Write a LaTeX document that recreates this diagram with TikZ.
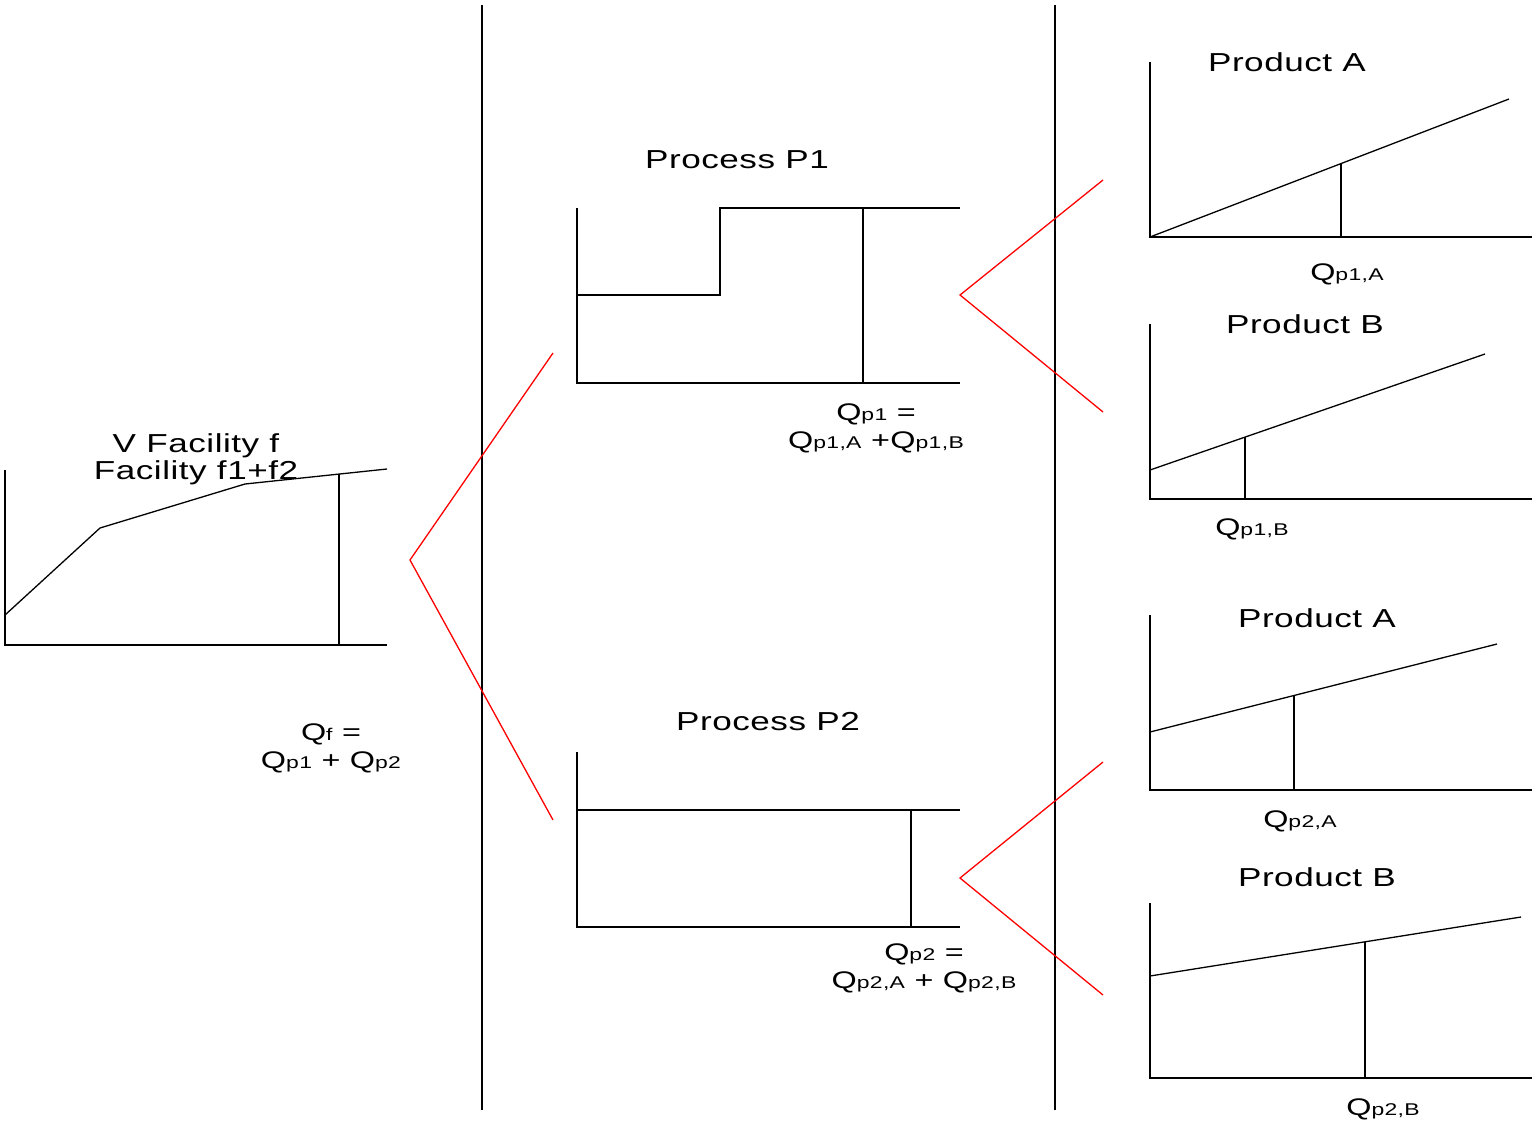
\documentclass[tikz,border=0pt]{standalone}
\usepackage{fontspec}
\setmainfont[FakeStretch=1.35,LetterSpace=2]{Liberation Sans}
\usetikzlibrary{positioning}
\newcommand{\Qsub}[1]{Q{\fontsize{8.5}{10}\selectfont #1}}

\begin{document}
\begin{tikzpicture}[x=0.5pt, y=-0.5pt,
  axisline/.style={line width=0.65pt},
  curveline/.style={line width=0.65pt},
  branch/.style={red, line width=0.65pt},
  divider/.style={line width=0.65pt},
  charttitle/.style={font=\fontsize{13}{13.5}\selectfont, align=center, inner sep=0pt},
  qlabel/.style={font=\fontsize{12}{14}\selectfont, align=center, inner sep=0pt},
]
\useasboundingbox (0,0) rectangle (1532,1120);

% Dividers
\draw[divider] (482,5) -- (482,1110);
\draw[divider] (1055,5) -- (1055,1110);

% Facility
\node[charttitle] (ftitle) at (196,459) {V Facility f\\Facility f1+f2};
\draw[axisline] (5,470) -- (5,645) -- (387,645);
\draw[curveline] (5,615) -- (100,528) -- (245,484) -- (387,469);
\draw[curveline] (339,645) -- (339,474);
\node[qlabel] (qf) at (331,748) {\Qsub{f} =\\\Qsub{p1} + \Qsub{p2}};

% Branches to processes
\coordinate (fsplit) at (410,560);
\coordinate (p1in) at (553,353);
\coordinate (p2in) at (553,820);
\draw[branch] (p1in) -- (fsplit) -- (p2in);

% Process P1
\node[charttitle] (p1title) at (737,160) {Process P1};
\draw[axisline] (577,208) -- (577,383) -- (960,383);
\draw[curveline] (577,295) -- (720,295) -- (720,208) -- (960,208);
\draw[curveline] (863,208) -- (863,383);
\node[qlabel] (qp1) at (876,428) {\Qsub{p1} =\\\Qsub{p1,A} +\Qsub{p1,B}};

% Process P2
\node[charttitle] (p2title) at (768,722) {Process P2};
\draw[axisline] (577,752) -- (577,927) -- (960,927);
\draw[curveline] (577,810) -- (960,810);
\draw[curveline] (911,810) -- (911,927);
\node[qlabel] (qp2) at (924,968) {\Qsub{p2} =\\\Qsub{p2,A} + \Qsub{p2,B}};

% Branches to products
\coordinate (p1split) at (960,295);
\coordinate (a1in) at (1103,180);
\coordinate (b1in) at (1103,412);
\draw[branch] (a1in) -- (p1split) -- (b1in);
\coordinate (p2split) at (960,878);
\coordinate (a2in) at (1103,762);
\coordinate (b2in) at (1103,995);
\draw[branch] (a2in) -- (p2split) -- (b2in);

% Product A (P1)
\node[charttitle] (a1title) at (1287,62) {Product A};
\draw[axisline] (1150,62) -- (1150,237) -- (1532,237);
\draw[curveline] (1150,237) -- (1509,99);
\draw[curveline] (1341,237) -- (1341,164);
\node[qlabel] (qa1) at (1347,274) {\Qsub{p1,A}};

% Product B (P1)
\node[charttitle] (b1title) at (1305,324) {Product B};
\draw[axisline] (1150,324) -- (1150,499) -- (1532,499);
\draw[curveline] (1150,470) -- (1485,354);
\draw[curveline] (1245,499) -- (1245,437);
\node[qlabel] (qb1) at (1252,529) {\Qsub{p1,B}};

% Product A (P2)
\node[charttitle] (a2title) at (1317,618) {Product A};
\draw[axisline] (1150,615) -- (1150,790) -- (1532,790);
\draw[curveline] (1150,732) -- (1497,644);
\draw[curveline] (1294,790) -- (1294,695);
\node[qlabel] (qa2) at (1300,821) {\Qsub{p2,A}};

% Product B (P2)
\node[charttitle] (b2title) at (1317,877) {Product B};
\draw[axisline] (1150,903) -- (1150,1078) -- (1532,1078);
\draw[curveline] (1150,976) -- (1521,917);
\draw[curveline] (1365,1078) -- (1365,942);
\node[qlabel] (qb2) at (1383,1109) {\Qsub{p2,B}};

\end{tikzpicture}
\end{document}
